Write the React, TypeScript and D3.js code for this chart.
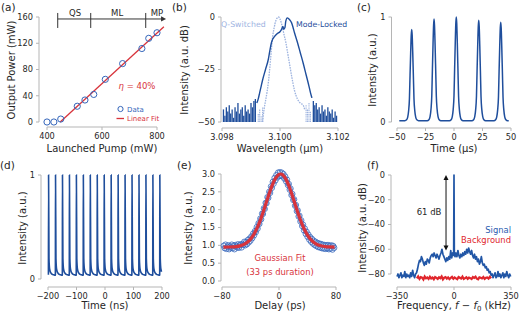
import React from "react";
import * as d3 from "d3";

const FONT = "DejaVu Sans, Verdana, sans-serif";
const BLUE = "#1f4e9c";
const DATA_BLUE = "#3566bb";
const RED = "#d8333b";
const LIGHT = "#9db3df";
const SPINE = "#b5b5b5";
const TXT = "#262626";
const TICK_FS = 8.2;

// ---------- (a) output power vs pump ----------
const pumpMw = [400, 425, 450, 510, 538, 570, 612, 675, 745, 770, 800];
const outputMw = [0, 0, 4.5, 24, 33.5, 42, 65, 89, 112, 127.5, 136];
const fitPump = [448, 825];
const fitOut = [0, 145];
const regimeEdges = [439, 559, 759];
const regimeNames = ["QS", "ML", "MP"];
const regimeLabelPump = [502, 655, 800];
const regimeArrowEnd = 833;
const regimeLevel = 157;
const aXTicks = [400, 600, 800];
const aYTicks = [0, 40, 80, 120, 160];

// ---------- (b) spectra ----------
const mlCurve: [number, number][] = [
  [3.0992, -41], [3.09925, -39], [3.0993, -36], [3.09935, -33], [3.0994, -30], [3.0995, -25],
  [3.0996, -20], [3.09965, -16], [3.0997, -12.5], [3.09975, -10.5], [3.0998, -9.5], [3.0999, -8],
  [3.1, -7], [3.10005, -6], [3.1001, -4.5], [3.10013, -5.8], [3.10017, -5], [3.1002, -2],
  [3.10025, -0.4], [3.1003, -0.8], [3.10035, -1.6], [3.1004, -2.8], [3.10045, -5], [3.1005, -7.5],
  [3.1006, -12], [3.1007, -17], [3.1008, -22], [3.1009, -27.5], [3.101, -33], [3.10105, -36], [3.1011, -38.5],
];
const mlNoiseLeft: [number, number][] = [
  [3.09805, -44], [3.0981, -47], [3.09815, -43], [3.0982, -45], [3.09825, -42], [3.0983, -46],
  [3.09835, -44], [3.0984, -48], [3.09845, -43], [3.0985, -45], [3.09855, -41], [3.0986, -46],
  [3.09865, -44], [3.0987, -43], [3.09875, -47], [3.0988, -42], [3.09885, -45], [3.0989, -44],
  [3.09895, -46], [3.099, -41], [3.09905, -43], [3.0991, -40], [3.09915, -39],
];
const mlNoiseRight: [number, number][] = [
  [3.10115, -40], [3.1012, -42], [3.10125, -41], [3.1013, -44], [3.10135, -43], [3.1014, -46],
  [3.10145, -42], [3.1015, -45], [3.10155, -44], [3.1016, -47], [3.10165, -43], [3.1017, -45],
  [3.10175, -46], [3.1018, -44], [3.10185, -48], [3.1019, -45], [3.10195, -47],
];
const qsCurve: [number, number][] = [
  [3.0994, -50], [3.09945, -44], [3.0995, -40], [3.09955, -36], [3.0996, -31], [3.09965, -24],
  [3.0997, -16], [3.09975, -9], [3.0998, -5], [3.09985, -2], [3.0999, -0.5], [3.09995, 0],
  [3.1, -1], [3.10005, -3], [3.1001, -6], [3.10015, -9], [3.1002, -12], [3.10025, -16],
  [3.1003, -20], [3.1004, -28], [3.1005, -35], [3.1006, -39], [3.1007, -41], [3.1008, -42], [3.10085, -44],
];
const qsNoise: [number, number][] = [
  [3.09925, -46], [3.0993, -44], [3.09935, -47], [3.0994, -43],
  [3.1009, -42], [3.10095, -44], [3.101, -41], [3.10105, -45],
];
const bXTicks = [3.098, 3.1, 3.102];
const bXLabels = ["3.098", "3.100", "3.102"];
const bYTicks = [-50, -25, 0];

// ---------- (c) Q-switched pulse train ----------
const cPulseTimes = [-37.1, -17.5, 2.0, 21.7, 41.0];
const cPulsePeaks = [0.88, 0.98, 1.0, 0.97, 0.95];
const cShapeOffset = [-6, -4.5, -3.5, -2.7, -2, -1.45, -0.9, -0.4, 0, 0.4, 0.9, 1.45, 2, 2.7, 3.5, 4.5, 6];
const cShapeValue = [0, 0.01, 0.04, 0.11, 0.24, 0.5, 0.75, 0.94, 1, 0.94, 0.75, 0.5, 0.24, 0.11, 0.04, 0.01, 0];
const cBaseline = 0.012;
const cRange = [-48, 48];
const cXTicks = [-50, -25, 0, 25, 50];

// ---------- (d) mode-locked pulse train ----------
const dPulseTimes = [-198, -173.6, -149.2, -124.8, -100.4, -76, -51.6, -27.2, -2.8, 21.6, 46, 70.4, 94.8, 119.2, 143.6, 168, 192.4];
const dShapeOffset = [-0.5, 0, 1.5, 2.8, 4.2, 6, 9, 13, 18, 23.8];
const dShapeValue = [0.04, 1, 0.2, 0.12, 0.09, 0.07, 0.055, 0.045, 0.04, 0.036];
const dEnd = 200;
const dXTicks = [-200, -100, 0, 100, 200];

// ---------- (e) autocorrelation ----------
const eStart = -77.5;
const eStep = 1.25;
const eValues = [
  0.99, 0.92, 1.02, 0.9, 0.96, 1.0, 0.89, 0.97, 0.93, 1.02, 0.92, 0.99, 0.89, 1.01, 0.97, 0.94,
  1.03, 0.93, 1.0, 1.03, 0.94, 1.04, 1.01, 1.1, 1.0, 1.09, 1.03, 1.15, 1.08, 1.19, 1.13, 1.25,
  1.2, 1.33, 1.28, 1.4, 1.37, 1.51, 1.47, 1.62, 1.6, 1.75, 1.73, 1.89, 1.88, 2.04, 2.02, 2.19,
  2.18, 2.35, 2.33, 2.5, 2.47, 2.65, 2.61, 2.78, 2.73, 2.89, 2.82, 2.97, 2.9, 3.04, 2.94, 3.05,
  2.95, 3.04, 2.93, 3.0, 2.87, 2.93, 2.79, 2.84, 2.69, 2.72, 2.56, 2.59, 2.41, 2.44, 2.27, 2.29,
  2.11, 2.13, 1.96, 1.98, 1.81, 1.83, 1.67, 1.7, 1.54, 1.58, 1.42, 1.47, 1.32, 1.38, 1.24, 1.3,
  1.16, 1.23, 1.1, 1.18, 1.05, 1.13, 1.01, 1.1, 0.98, 1.07, 0.95, 1.05, 0.94, 1.04, 0.92, 1.02,
  0.91, 1.01, 0.9, 1.0, 0.91, 1.01, 0.89, 0.99, 0.91, 1.0, 0.88, 0.98, 0.93,
];
const eFitDelay = [-78, -70, -65, -60, -55, -50, -45, -40, -35, -30, -25, -20, -15, -10, -5, 0, 2.5, 5, 10, 15, 20, 25, 30, 35, 40, 45, 50, 55, 60, 65, 70, 78];
const eFitValue = [0.951, 0.953, 0.957, 0.966, 0.985, 1.019, 1.078, 1.174, 1.317, 1.517, 1.771, 2.067, 2.376, 2.661, 2.877, 2.99, 3.0, 2.977, 2.842, 2.608, 2.315, 2.005, 1.717, 1.472, 1.285, 1.151, 1.064, 1.01, 0.98, 0.964, 0.956, 0.951];
const eXTicks = [-80, 0, 80];
const eYTicks = [0, 0.5, 1, 1.5, 2, 2.5, 3];

// ---------- (f) RF spectrum ----------
const fSignal: [number, number][] = [
  [-350, -82], [-344, -80], [-338, -83], [-332, -81], [-326, -79], [-320, -83], [-314, -81], [-308, -82],
  [-302, -78], [-296, -83], [-290, -80], [-284, -82], [-278, -81], [-272, -83], [-266, -79], [-260, -82],
  [-254, -77], [-248, -81], [-242, -83], [-236, -80], [-230, -79], [-224, -76], [-218, -72], [-212, -69],
  [-206, -70], [-200, -66], [-194, -68], [-188, -71], [-182, -73], [-176, -70], [-170, -72], [-164, -68],
  [-158, -69], [-152, -71], [-146, -67], [-140, -65], [-134, -64], [-128, -66], [-122, -63], [-116, -65],
  [-110, -67], [-104, -64], [-98, -66], [-92, -68], [-86, -65], [-80, -63], [-74, -60], [-68, -64],
  [-62, -66], [-56, -68], [-50, -70], [-44, -67], [-38, -69], [-32, -66], [-26, -68], [-20, -61],
  [-14, -67], [-8, -63], [-4, -65], [-2, -63], [0, 0], [2, -63], [6, -66], [12, -63], [18, -66],
  [24, -61], [30, -65], [36, -67], [42, -64], [48, -66], [54, -63], [60, -65], [66, -62], [72, -64],
  [78, -60], [84, -63], [90, -59], [96, -62], [102, -64], [108, -61], [114, -65], [120, -67], [126, -64],
  [132, -68], [138, -66], [144, -70], [150, -68], [156, -72], [162, -70], [168, -66], [174, -71],
  [180, -73], [186, -72], [192, -75], [198, -74], [204, -77], [210, -76], [216, -79], [222, -78],
  [228, -81], [234, -80], [240, -83], [246, -81], [252, -79], [258, -83], [264, -82], [270, -78],
  [276, -82], [282, -80], [288, -83], [294, -81], [300, -79], [306, -83], [312, -80], [318, -82],
  [324, -78], [330, -81], [336, -83], [342, -80], [348, -82],
];
const fBgStart = -228;
const fBgStep = 8;
const fBackground = [
  -83.5, -82, -84, -82.5, -83, -84.5, -82, -83.5, -82.8, -84, -82.2, -83.6, -82.9, -84.2, -82.4, -83.1,
  -84, -82.6, -83.4, -82, -84.3, -83, -82.5, -83.8, -82.7, -84.1, -83.2, -82.3, -83.9, -82.8, -83.5,
  -84.2, -82.4, -83, -83.7, -82.1, -84, -83.3, -82.6, -83.9, -82.9, -83.4, -84.1, -82.5, -83.2, -82.2,
  -83.8, -84.3, -82.7, -83, -83.6, -82.4, -84, -83.1, -82.8, -83.7, -82.3, -83.5,
];
const fArrowFreq = -49;
const fArrowDb = [0, -61];
const fXTicks = [-350, 0, 350];
const fYTicks = [-80, -60, -40, -20, 0];

const minus = (v: number) => (v < 0 ? "\u2212" + Math.abs(v) : String(v));

function YAxis({ y, x, ticks, labels }: any) {
  const lo = d3.min(ticks) as number, hi = d3.max(ticks) as number;
  return (
    <g>
      <line x1={x} x2={x} y1={y(lo)} y2={y(hi)} stroke={SPINE} strokeWidth={1} />
      {ticks.map((t: number, i: number) => (
        <g key={i}>
          <line x1={x - 3} x2={x} y1={y(t)} y2={y(t)} stroke={SPINE} />
          <text x={x - 6} y={y(t)} dy="0.35em" textAnchor="end" fontSize={TICK_FS} fill={TXT}>
            {labels[i]}
          </text>
        </g>
      ))}
    </g>
  );
}

function XAxis({ x, y, ticks, labels }: any) {
  const lo = d3.min(ticks) as number, hi = d3.max(ticks) as number;
  return (
    <g>
      <line x1={x(lo)} x2={x(hi)} y1={y} y2={y} stroke={SPINE} strokeWidth={1} />
      {ticks.map((t: number, i: number) => (
        <g key={i}>
          <line x1={x(t)} x2={x(t)} y1={y} y2={y + 3} stroke={SPINE} />
          <text x={x(t)} y={y + 12} textAnchor="middle" fontSize={TICK_FS} fill={TXT}>
            {labels[i]}
          </text>
        </g>
      ))}
    </g>
  );
}

function YLabel({ x, y, text }: any) {
  return (
    <text transform={`translate(${x},${y}) rotate(-90)`} dy="0.35em" textAnchor="middle" fontSize={10} fill={TXT}>
      {text}
    </text>
  );
}

function XLabel({ x, y, children }: any) {
  return (
    <text x={x} y={y} textAnchor="middle" fontSize={10} fill={TXT}>
      {children}
    </text>
  );
}

function PanelLabel({ x, y, t }: any) {
  return (
    <text x={x} y={y} fontSize={10.5} fill={TXT}>
      {t}
    </text>
  );
}

function PanelA() {
  const x = d3.scaleLinear().domain([400, 800]).range([47, 157]);
  const y = d3.scaleLinear().domain([0, 160]).range([122, 17]);
  const line = d3.line<number>().x((d, i) => x(fitPump[i])).y((d) => y(d));
  const ay = y(regimeLevel);
  return (
    <g>
      <YAxis y={y} x={39} ticks={aYTicks} labels={aYTicks.map(String)} />
      <XAxis x={x} y={127} ticks={aXTicks} labels={aXTicks.map(String)} />
      <path d={line(fitOut) || ""} stroke={RED} strokeWidth={1.3} fill="none" />
      {pumpMw.map((p, i) => (
        <circle key={i} cx={x(p)} cy={y(outputMw[i])} r={3.1} fill="none" stroke={DATA_BLUE} strokeWidth={1} />
      ))}
      <line x1={x(regimeEdges[0])} x2={x(regimeArrowEnd) - 4} y1={ay} y2={ay} stroke="#333" strokeWidth={1} />
      <path d={`M${x(regimeArrowEnd)},${ay} l-5,-2.6 l0,5.2 z`} fill="#333" />
      {regimeEdges.map((e, i) => (
        <line key={i} x1={x(e)} x2={x(e)} y1={ay - 6} y2={ay + 9} stroke="#333" strokeWidth={1} />
      ))}
      {regimeNames.map((n, i) => (
        <text key={n} x={x(regimeLabelPump[i])} y={ay - 3} textAnchor="middle" fontSize={8.5} fill={TXT}>
          {n}
        </text>
      ))}
      <text x={137} y={89} textAnchor="middle" fontSize={8.5} fill={RED}>
        <tspan fontStyle="italic">η</tspan> = 40%
      </text>
      <circle cx={120.5} cy={109} r={2.6} fill="none" stroke={DATA_BLUE} strokeWidth={1} />
      <text x={127} y={111.5} fontSize={7} fill={DATA_BLUE}>Data</text>
      <line x1={116.5} x2={124} y1={118.5} y2={118.5} stroke={RED} strokeWidth={1.3} />
      <text x={127} y={121} fontSize={7} fill={RED}>Linear Fit</text>
      <YLabel x={11} y={70} text="Output Power (mW)" />
      <XLabel x={102} y={152}>Launched Pump (mW)</XLabel>
      <PanelLabel x={1} y={11} t="(a)" />
    </g>
  );
}

function PanelB() {
  const x = d3.scaleLinear().domain([3.098, 3.102]).range([222, 338]);
  const y = d3.scaleLinear().domain([-50, 0]).range([122, 17]);
  const line = d3.line<[number, number]>().x((d) => x(d[0])).y((d) => y(Math.max(-50, d[1]))).curve(d3.curveMonotoneX);
  return (
    <g>
      <YAxis y={y} x={221} ticks={bYTicks} labels={bYTicks.map(minus)} />
      <XAxis x={x} y={128} ticks={bXTicks} labels={bXLabels} />
      {qsNoise.map((d, i) => (
        <line key={i} x1={x(d[0])} x2={x(d[0])} y1={y(-50)} y2={y(d[1])} stroke={LIGHT} strokeWidth={1.1} strokeDasharray="1.4,0.8" />
      ))}
      <path d={line(qsCurve) || ""} fill="none" stroke={LIGHT} strokeWidth={1.3} strokeDasharray="1.6,1" />
      {mlNoiseLeft.concat(mlNoiseRight).map((d, i) => (
        <line key={i} x1={x(d[0])} x2={x(d[0])} y1={y(-50)} y2={y(d[1])} stroke={BLUE} strokeWidth={1.3} />
      ))}
      <path d={line(mlCurve) || ""} fill="none" stroke={BLUE} strokeWidth={1.4} />
      <text x={221} y={27} fontSize={7.8} fill={LIGHT}>Q-Switched</text>
      <text x={296} y={27} fontSize={7.8} fill={BLUE}>Mode-Locked</text>
      <YLabel x={184} y={70} text="Intensity (a.u. dB)" />
      <XLabel x={280} y={152}>Wavelength (μm)</XLabel>
      <PanelLabel x={172} y={11} t="(b)" />
    </g>
  );
}

function PanelC() {
  const x = d3.scaleLinear().domain([-50, 50]).range([397, 511]);
  const y = d3.scaleLinear().domain([0, 1]).range([122, 17]);
  const pts: [number, number][] = [[cRange[0], cBaseline]];
  cPulseTimes.forEach((t, k) => {
    cShapeOffset.forEach((o, j) => pts.push([t + o, cBaseline + cShapeValue[j] * (cPulsePeaks[k] - cBaseline)]));
  });
  pts.push([cRange[1], cBaseline]);
  const line = d3.line<[number, number]>().x((d) => x(d[0])).y((d) => y(d[1])).curve(d3.curveMonotoneX);
  return (
    <g>
      <YAxis y={y} x={391.5} ticks={[0, 1]} labels={["0", "1"]} />
      <XAxis x={x} y={128} ticks={cXTicks} labels={cXTicks.map(minus)} />
      <path d={line(pts) || ""} fill="none" stroke={BLUE} strokeWidth={1.5} />
      <YLabel x={372} y={70} text="Intensity (a.u.)" />
      <XLabel x={454} y={152}>Time (μs)</XLabel>
      <PanelLabel x={357} y={11} t="(c)" />
    </g>
  );
}

function PanelD() {
  const x = d3.scaleLinear().domain([-200, 200]).range([48, 162]);
  const y = d3.scaleLinear().domain([0, 1]).range([279, 175]);
  const pts: [number, number][] = [];
  dPulseTimes.forEach((t) => {
    dShapeOffset.forEach((o, j) => {
      if (t + o <= dEnd) pts.push([t + o, dShapeValue[j]]);
    });
  });
  const line = d3.line<[number, number]>().x((d) => x(d[0])).y((d) => y(d[1])).curve(d3.curveMonotoneX);
  return (
    <g>
      <YAxis y={y} x={41} ticks={[0, 1]} labels={["0", "1"]} />
      <XAxis x={x} y={287} ticks={dXTicks} labels={dXTicks.map(minus)} />
      <path d={line(pts) || ""} fill="none" stroke={BLUE} strokeWidth={1.6} />
      <YLabel x={22} y={228} text="Intensity (a.u.)" />
      <XLabel x={105} y={309}>Time (ns)</XLabel>
      <PanelLabel x={0} y={169} t="(d)" />
    </g>
  );
}

function PanelE() {
  const x = d3.scaleLinear().domain([-80, 80]).range([222, 336]);
  const y = d3.scaleLinear().domain([0, 3]).range([281, 174]);
  const line = d3.line<number>().x((d, i) => x(eFitDelay[i])).y((d) => y(d)).curve(d3.curveCatmullRom);
  return (
    <g>
      <YAxis y={y} x={221} ticks={eYTicks} labels={eYTicks.map((v) => v.toFixed(1))} />
      <XAxis x={x} y={287} ticks={eXTicks} labels={eXTicks.map(minus)} />
      {eValues.map((v, i) => (
        <circle key={i} cx={x(eStart + i * eStep)} cy={y(v)} r={2.7} fill="none" stroke={DATA_BLUE} strokeWidth={0.8} />
      ))}
      <path d={line(eFitValue) || ""} fill="none" stroke={RED} strokeWidth={3.2} />
      <text x={280} y={261} textAnchor="middle" fontSize={8.4} fill={RED}>Gaussian Fit</text>
      <text x={280} y={275} textAnchor="middle" fontSize={8.4} fill={RED}>(33 ps duration)</text>
      <YLabel x={188} y={228} text="Intensity (a.u.)" />
      <XLabel x={280} y={309}>Delay (ps)</XLabel>
      <PanelLabel x={177} y={169} t="(e)" />
    </g>
  );
}

function PanelF() {
  const x = d3.scaleLinear().domain([-350, 350]).range([397, 511]);
  const y = d3.scaleLinear().domain([-80, 0]).range([274, 175]);
  const line = d3.line<[number, number]>().x((d) => x(d[0])).y((d) => y(d[1]));
  const bgLine = d3.line<number>().x((d, i) => x(fBgStart + i * fBgStep)).y((d) => y(d));
  const ax = x(fArrowFreq);
  const y0 = y(fArrowDb[0]), y1 = y(fArrowDb[1]);
  return (
    <g>
      <YAxis y={y} x={391} ticks={fYTicks} labels={fYTicks.map(minus)} />
      <XAxis x={x} y={287} ticks={fXTicks} labels={fXTicks.map(minus)} />
      <path d={line(fSignal) || ""} fill="none" stroke="#2156a6" strokeWidth={1.7} strokeLinejoin="round" />
      <path d={bgLine(fBackground) || ""} fill="none" stroke="#e0262c" strokeWidth={2.2} />
      <line x1={ax} x2={ax} y1={y0 + 4} y2={y1 - 4} stroke="#111" strokeWidth={1} />
      <path d={`M${ax},${y0} l-2.5,5 l5,0 z`} fill="#111" />
      <path d={`M${ax},${y1} l-2.5,-5 l5,0 z`} fill="#111" />
      <text x={429} y={212} dy="0.35em" textAnchor="middle" fontSize={8.5} fill={TXT}>61 dB</text>
      <text x={511} y={230} dy="0.35em" textAnchor="end" fontSize={8.4} fill="#2a5db0">Signal</text>
      <text x={511} y={240} dy="0.35em" textAnchor="end" fontSize={8.4} fill="#e0262c">Background</text>
      <YLabel x={362} y={228} text="Intensity (a.u. dB)" />
      <XLabel x={454} y={309}>
        Frequency, <tspan fontStyle="italic">f</tspan> − <tspan fontStyle="italic">f</tspan>
        <tspan fontSize={7} dy={2}>0</tspan>
        <tspan dy={-2}> (kHz)</tspan>
      </XLabel>
      <PanelLabel x={367} y={169} t="(f)" />
    </g>
  );
}

export default function App() {
  return (
    <svg
      width={520}
      height={313}
      viewBox="0 0 520 313"
      style={{ position: "absolute", left: 0, top: 0, background: "#fff", fontFamily: FONT }}
    >
      <rect width={520} height={313} fill="#fff" />
      <PanelA />
      <PanelB />
      <PanelC />
      <PanelD />
      <PanelE />
      <PanelF />
    </svg>
  );
}
